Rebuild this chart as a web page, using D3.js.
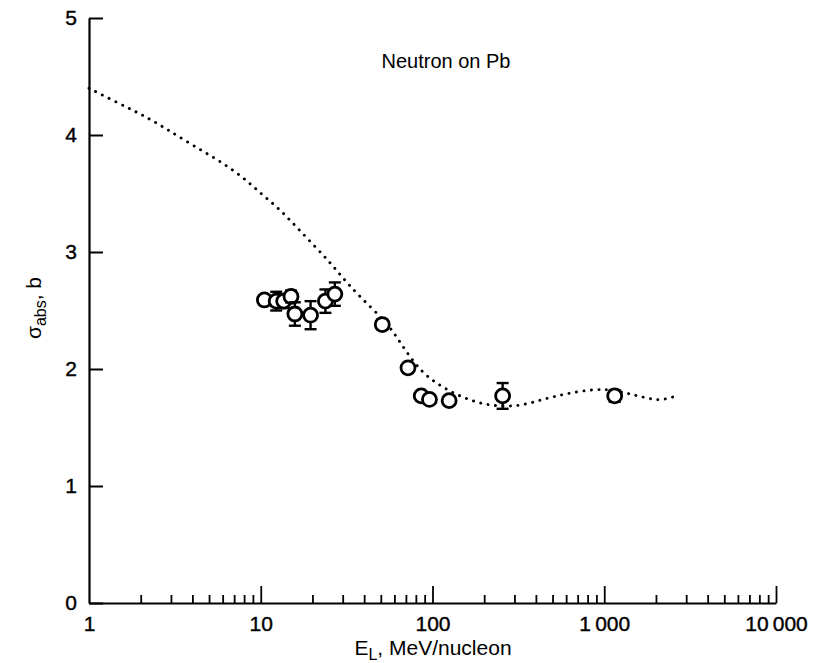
<!DOCTYPE html>
<html>
<head>
<meta charset="utf-8">
<script src="https://cdn.jsdelivr.net/npm/d3@7"></script>
<style>
  html, body { margin: 0; padding: 0; background: #fff; }
  svg { display: block; font-family: "Liberation Sans", Arial, Helvetica, sans-serif; }
</style>
</head>
<body>
<svg id="chart" width="820" height="663"></svg>
<script>
// ---- data ----
const titleText = "Neutron on Pb";
const xTickLabels = [1, 10, 100, 1000, 10000];
const yTickValues = [0, 1, 2, 3, 4, 5];

// theory curve (dotted)
const curveE = [1, 1.54, 2.06, 2.77, 3.93, 5.6, 7.9, 10, 12.8, 16, 20, 25, 30, 37.5, 56, 69, 88, 110, 138, 176, 215, 270, 334, 438, 600, 880, 1150, 1460, 1800, 2100, 2500];
const curveS = [4.40, 4.26, 4.17, 4.06, 3.92, 3.79, 3.64, 3.50, 3.37, 3.22, 3.07, 2.92, 2.78, 2.62, 2.38, 2.16, 1.96, 1.86, 1.78, 1.72, 1.69, 1.68, 1.69, 1.74, 1.79, 1.83, 1.82, 1.78, 1.75, 1.73, 1.76];

// measured points with error bars
const dataE   = [10.5, 12.3, 13.6, 15.0, 15.8, 19.5, 23.8, 27.0, 51, 72, 86, 96, 125, 256, 1150];
const dataS   = [2.59, 2.58, 2.58, 2.62, 2.47, 2.46, 2.58, 2.64, 2.38, 2.01, 1.77, 1.74, 1.73, 1.77, 1.77];
const dataErr = [0.04, 0.08, 0.06, 0.05, 0.10, 0.12, 0.10, 0.10, 0.04, 0.04, 0.03, 0.03, 0.03, 0.11, 0.05];

// ---- layout ----
const svg = d3.select("#chart");
const x = d3.scaleLog().domain([1, 10000]).range([89, 776]);
const y = d3.scaleLinear().domain([0, 5]).range([603, 18]);

const fmt = d => d3.format(",")(d).replace(/,/g, "\u2009");
const FONT = "'Liberation Sans', Arial, sans-serif";

// minor ticks
const minorTicks = [];
[1, 10, 100, 1000].forEach(dec => { for (let k = 2; k <= 9; k++) minorTicks.push(dec * k); });
const majorTicks = [10, 100, 1000, 10000];

// x axis: minor ticks
svg.append("g").attr("transform", `translate(0,${y(0)})`)
  .call(d3.axisBottom(x).tickValues(minorTicks).tickSizeInner(-8).tickSizeOuter(0).tickFormat(""))
  .call(g => { g.select(".domain").attr("stroke-width", 2.2); g.selectAll("line").attr("stroke-width", 1.8); });
// x axis: major ticks
svg.append("g").attr("transform", `translate(0,${y(0)})`)
  .call(d3.axisBottom(x).tickValues(majorTicks).tickSizeInner(-17).tickSizeOuter(0).tickFormat(""))
  .call(g => { g.select(".domain").remove(); g.selectAll("line").attr("stroke-width", 1.8); });
// x axis labels
svg.append("g").attr("transform", `translate(0,${y(0)})`)
  .call(d3.axisBottom(x).tickValues(xTickLabels).tickSize(0).tickPadding(13).tickFormat(fmt))
  .call(g => {
    g.select(".domain").remove();
    g.selectAll("text").attr("font-size", 21).attr("fill", "#000")
      .attr("font-family", FONT).attr("stroke", "#000").attr("stroke-width", 0.4);
  });

// y axis
svg.append("g").attr("transform", `translate(${x(1)},0)`)
  .call(d3.axisLeft(y).tickValues(yTickValues).tickSizeInner(-14).tickSizeOuter(0).tickPadding(12).tickFormat(d3.format("d")))
  .call(g => {
    g.select(".domain").attr("stroke-width", 2.2);
    g.selectAll("line").attr("stroke-width", 2);
    g.selectAll("text").attr("font-size", 21).attr("fill", "#000")
      .attr("font-family", FONT).attr("stroke", "#000").attr("stroke-width", 0.4);
  });

// theory curve
const line = d3.line().x((d, i) => x(curveE[i])).y((d, i) => y(curveS[i])).curve(d3.curveBasis);
svg.append("path")
  .datum(curveS)
  .attr("d", line)
  .attr("fill", "none")
  .attr("stroke", "#000")
  .attr("stroke-width", 2.9)
  .attr("stroke-linecap", "round")
  .attr("stroke-dasharray", "0.1,7.4");

// data points
const pts = svg.append("g");
dataE.forEach((e, i) => {
  const cx = x(e), cy = y(dataS[i]);
  const top = y(dataS[i] + dataErr[i]), bot = y(dataS[i] - dataErr[i]);
  const g = pts.append("g").attr("stroke", "#000").attr("stroke-width", 2.4);
  g.append("line").attr("x1", cx).attr("x2", cx).attr("y1", top).attr("y2", bot);
  g.append("line").attr("x1", cx - 6).attr("x2", cx + 6).attr("y1", top).attr("y2", top);
  g.append("line").attr("x1", cx - 6).attr("x2", cx + 6).attr("y1", bot).attr("y2", bot);
  g.append("circle").attr("cx", cx).attr("cy", cy).attr("r", 7).attr("fill", "#fff").attr("stroke-width", 2.8);
});

// title
svg.append("text").attr("x", 446).attr("y", 68).attr("text-anchor", "middle")
  .attr("font-size", 20).text(titleText);

// x axis title
const xt = svg.append("text").attr("x", 433).attr("y", 655).attr("text-anchor", "middle").attr("font-size", 21);
xt.append("tspan").text("E");
xt.append("tspan").attr("font-size", 16).attr("dy", 5).text("L");
xt.append("tspan").attr("dy", -5).text(", MeV/nucleon");

// y axis title
const yt = svg.append("text").attr("transform", "translate(41,308) rotate(-90)").attr("text-anchor", "middle").attr("font-size", 21);
yt.append("tspan").text("\u03c3");
yt.append("tspan").attr("font-size", 16).attr("dy", 5).text("abs");
yt.append("tspan").attr("dy", -5).text(", b");
</script>
</body>
</html>
